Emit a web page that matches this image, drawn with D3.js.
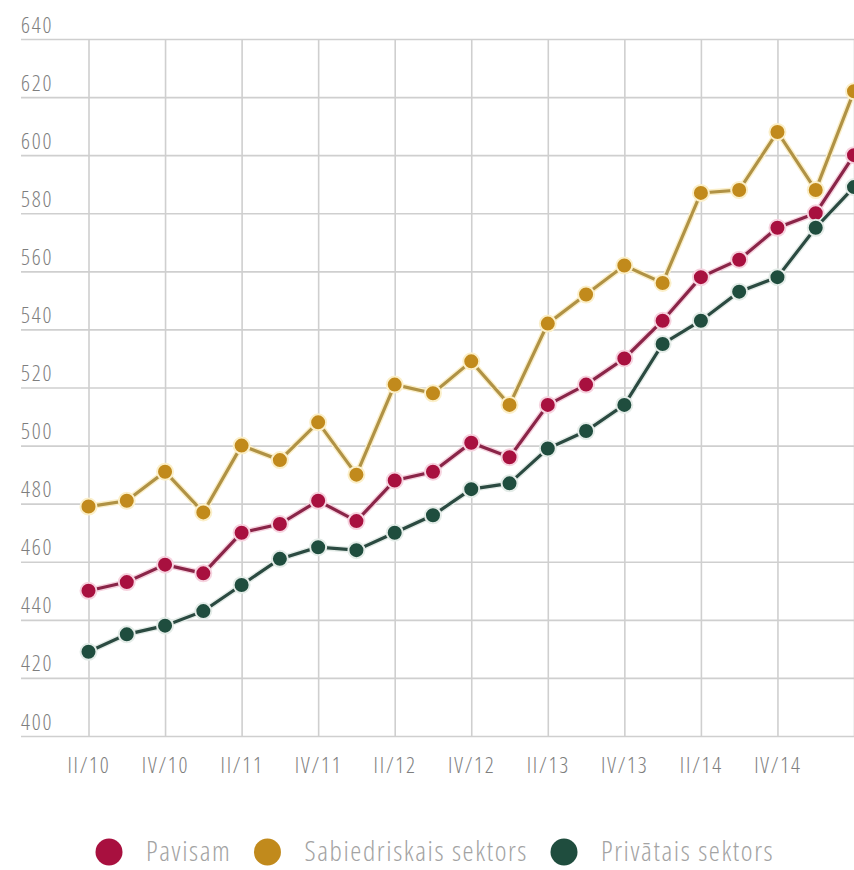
<!DOCTYPE html>
<html>
<head>
<meta charset="utf-8">
<script src="https://cdn.jsdelivr.net/npm/d3@7"></script>
<style>
  body { margin: 0; background: #fff; }
  text { font-family: "Open Sans", sans-serif; font-stretch: 75%; font-weight: 300; }
</style>
</head>
<body>
<svg id="chart" width="854" height="870"></svg>
<script>
// ceturksni no II/10 lidz II/15
const quarters = ["II/10","III/10","IV/10","I/11","II/11","III/11","IV/11","I/12","II/12","III/12",
    "IV/12","I/13","II/13","III/13","IV/13","I/14","II/14","III/14","IV/14","I/15","II/15"];
// vertibas nolasitas no attela
const pavisam = [450,453,459,456,470,473,481,474,488,491,501,496,514,521,530,543,558,564,575,580,600];
const sabiedriskais = [479,481,491,477,500,495,508,490,521,518,529,514,542,552,562,556,587,588,608,588,622];
const privatais = [429,435,438,443,452,461,465,464,470,476,485,487,499,505,514,535,543,553,558,575,589];
const seriesNames = ["Pavisam","Sabiedriskais sektors","Privātais sektors"];
const yTicks = [400,420,440,460,480,500,520,540,560,580,600,620,640];

// barvas: punkts, linija, oreols
const colors = [
    {dot:"#a8103f", line:"#8a2548", halo:"#f6d3df"},
    {dot:"#c18a1c", line:"#b09245", halo:"#fbefc9"},
    {dot:"#1f4d3e", line:"#2b4a41", halo:"#e4ece8"}
];
const data = [pavisam, sabiedriskais, privatais];

const svg = d3.select("#chart");
const W = 854;
const plotLeft = 21, plotTop = 39, plotBottom = 736;

const x = d3.scaleLinear().domain([0, quarters.length - 1]).range([88.5, 854]);
const y = d3.scaleLinear().domain([400, 640]).range([plotBottom, plotTop]);

// horizontalas linijas + y etiketes
const yAxis = d3.axisRight(y).tickValues(yTicks).tickSize(W - plotLeft).tickFormat(d3.format("d"));
const gy = svg.append("g").attr("transform", `translate(${plotLeft},0)`).call(yAxis);
gy.select(".domain").remove();
gy.selectAll("line").attr("stroke", "#cfcfcf").attr("stroke-width", 1.6);
gy.selectAll("text")
    .attr("x", 0).attr("dy", -7)
    .attr("text-anchor", "start")
    .attr("fill", "#7e7e7e")
    .style("font-size", "22px").style("letter-spacing", "1.8px");

// vertikalas linijas + x etiketes (katrs otrais ceturksnis)
const xIdx = d3.range(0, quarters.length, 2);
const xAxis = d3.axisBottom(x).tickValues(xIdx).tickSize(-(plotBottom - plotTop))
    .tickFormat(i => i === quarters.length - 1 ? "" : quarters[i]);
const gx = svg.append("g").attr("transform", `translate(0,${plotBottom})`).call(xAxis);
gx.select(".domain").remove();
gx.selectAll("line").attr("stroke", "#cfcfcf").attr("stroke-width", 1.6);
gx.selectAll("text")
    .attr("y", 22).attr("dy", 15)
    .attr("fill", "#7e7e7e")
    .style("font-size", "22px").style("letter-spacing", "1.8px");

const line = d3.line().x((d, i) => x(i)).y(d => y(d));

data.forEach((vals, k) => {
    const g = svg.append("g");
    g.append("path").datum(vals)
        .attr("d", line).attr("fill", "none")
        .attr("stroke", colors[k].halo).attr("stroke-width", 6);
    g.append("path").datum(vals)
        .attr("d", line).attr("fill", "none")
        .attr("stroke", colors[k].line).attr("stroke-width", 3.2);
    g.selectAll("circle").data(vals).join("circle")
        .attr("cx", (d, i) => x(i)).attr("cy", d => y(d))
        .attr("r", 8)
        .attr("fill", colors[k].dot)
        .attr("stroke", colors[k].halo).attr("stroke-width", 2);
});

// legenda
const legend = svg.append("g");
let cx = 109;
seriesNames.forEach((name, k) => {
    legend.append("circle").attr("cx", cx).attr("cy", 852).attr("r", 13.5)
        .attr("fill", colors[k].dot);
    const t = legend.append("text").attr("x", cx + 37).attr("y", 861)
        .attr("fill", "#a3a3a3").style("font-size", "28px").style("letter-spacing", "1.6px").text(name);
    cx = cx + 37 + t.node().getComputedTextLength() + 36;
});
</script>
</body>
</html>
